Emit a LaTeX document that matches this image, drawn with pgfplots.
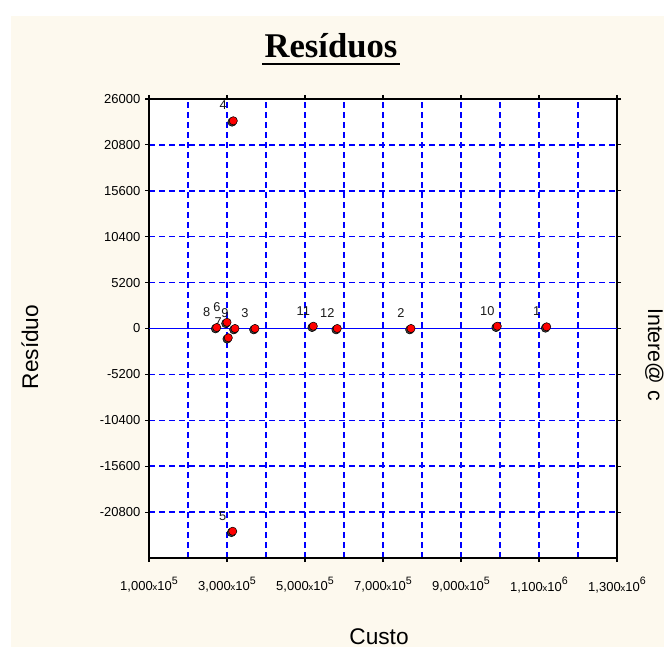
\documentclass[border=0pt]{standalone}
\usepackage{pgfplots}
\pgfplotsset{compat=1.18}
\usepackage{pgfplotstable}
\usepackage{fontspec}
\setmainfont{Liberation Sans}
\newfontfamily\titlefont{Liberation Serif}
\definecolor{cream}{HTML}{FDF9EE}
\definecolor{gridblue}{HTML}{0000FF}
% x tick label like 1,000x10^5
\newcommand\tl[2]{#1{\fontsize{7}{7}\selectfont x}10\raisebox{0.9ex}{\fontsize{8}{8}\selectfont #2}}

\pgfplotstableread{
x        y      lab
1119700  190    1
771800   0      2
371800   0      3
316100   23530  4
314600   -22970 5
300000   700    6
303300   -1050  7
273600   110    8
320500   0      9
993000   260    10
521300   260    11
582800   0      12
}\residuals

\begin{document}
\begin{tikzpicture}[x=0.75pt,y=0.75pt]
\fill[white] (0,0) rectangle (664,647);
\fill[cream] (11,0) rectangle (664,631);
\begin{axis}[
    at={(111.75pt,66.75pt)}, anchor=south west,
    scale only axis, width=351pt, height=344.25pt,
    xmin=100000, xmax=1300000, ymin=-26000, ymax=26000,
    axis background/.style={fill=white},
    axis line style={black, line width=1.1pt},
    font=\fontsize{9.75}{11}\selectfont,
    xtick={100000,300000,500000,700000,900000,1100000,1300000},
    xticklabels={{\tl{1,000}{5}},{\tl{3,000}{5}},{\tl{5,000}{5}},{\tl{7,000}{5}},{\tl{9,000}{5}},{\tl{1,100}{6}},{\tl{1,300}{6}}},
    minor xtick={200000,400000,600000,800000,1000000,1200000},
    ytick={-20800,-15600,-10400,-5200,0,5200,10400,15600,20800,26000},
    yticklabels={-20800,-15600,-10400,-5200,0,5200,10400,15600,20800,26000},
    scaled ticks=false,
    tick align=outside, major tick length=3pt, minor tick length=0pt,
    tick style={black, line width=0.8pt},
    xticklabel style={yshift=-8pt},
    grid=both,
    major grid style={gridblue, line width=1.1pt, dash pattern=on 4.5pt off 3pt},
    minor grid style={gridblue, line width=1.1pt, dash pattern=on 4.5pt off 3pt},
]
% zero line
\addplot[gridblue, line width=1.2pt] coordinates {(100000,0) (1300000,0)};
% marker shadows
\addplot[only marks, mark=*, mark size=3.2pt,
    mark options={fill=black!75, draw=none, xshift=-0.9pt, yshift=-0.9pt}]
    table[x=x, y=y] {\residuals};
% residuals
\addplot[only marks, mark=*, mark size=3.1pt,
    mark options={fill=red, draw=none},
    nodes near coords, point meta=explicit symbolic,
    nodes near coords align={center},
    nodes near coords style={font=\fontsize{9.6}{10}\selectfont, text=black!90,
        anchor=center, inner sep=0pt, xshift=-7.5pt, yshift=11.5pt},
] table[x=x, y=y, meta=lab] {\residuals};
\end{axis}
% title
\node[anchor=base, inner sep=0pt, font=\titlefont\bfseries\fontsize{26}{28}\selectfont] at (331,589) {Resíduos};
\draw[line width=2.2pt] (262,583) -- (400,583);
% axis titles
\node[rotate=90, anchor=base, inner sep=0pt, font=\fontsize{17}{19}\selectfont] at (38,300) {Resíduo};
\node[anchor=base, inner sep=0pt, font=\fontsize{17}{19}\selectfont] at (379,3) {Custo};
\node[rotate=-90, anchor=base west, inner sep=0pt, font=\fontsize{16}{18}\selectfont] at (648,339) {Intere@ c};
\pgfresetboundingbox
\useasboundingbox (0,0) rectangle (664,647);
\end{tikzpicture}
\end{document}
